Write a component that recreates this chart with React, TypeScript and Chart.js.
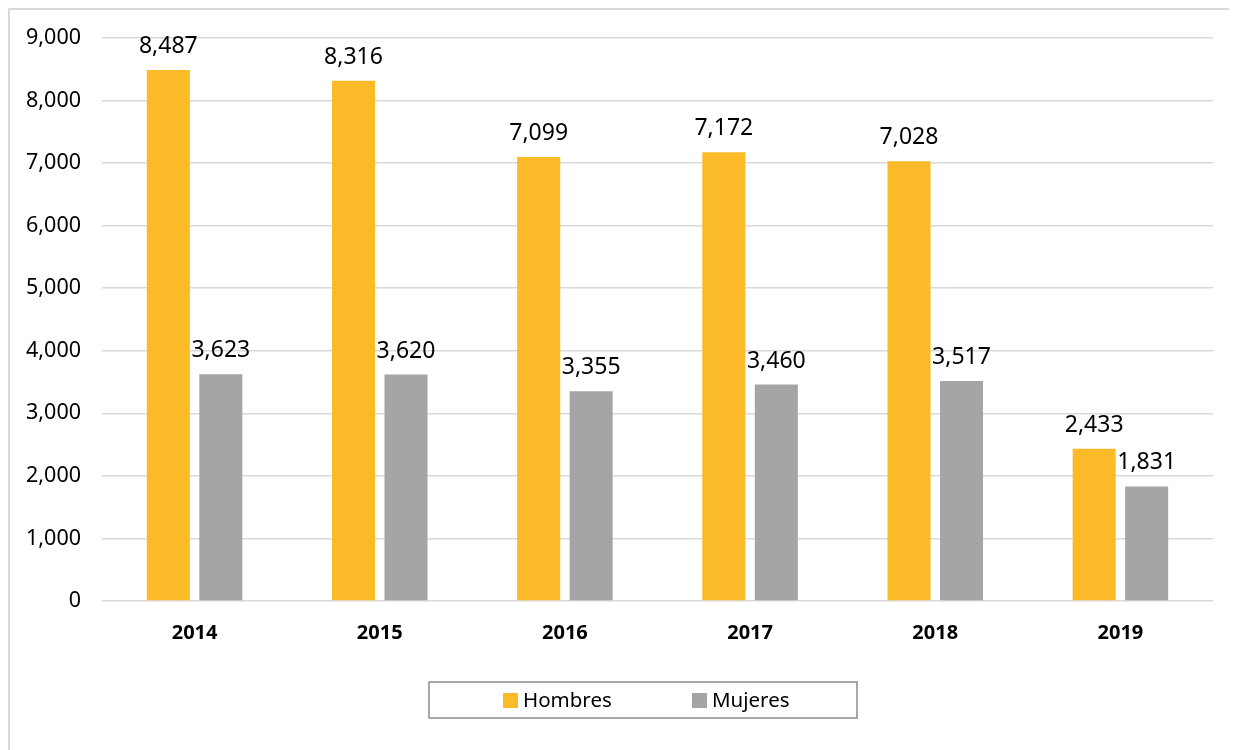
import React, { useEffect, useRef } from "react";
import { Chart, registerables } from "chart.js";

Chart.register(...registerables);

const years = ["2014", "2015", "2016", "2017", "2018", "2019"];
const hombres = [8487, 8316, 7099, 7172, 7028, 2433];
const mujeres = [3623, 3620, 3355, 3460, 3517, 1831];
const seriesNames = ["Hombres", "Mujeres"];
const seriesColors = ["#FBBA27", "#A5A5A5"];

const FONT = "'Noto Sans', 'Open Sans', sans-serif";

const labelsPlugin = {
  id: "valueLabels",
  afterDatasetsDraw(chart: any) {
    const ctx = chart.ctx;
    ctx.save();
    ctx.font = `23px ${FONT}`;
    ctx.fillStyle = "#000";
    ctx.textAlign = "center";
    ctx.textBaseline = "alphabetic";
    chart.data.datasets.forEach((ds: any, i: number) => {
      const meta = chart.getDatasetMeta(i);
      meta.data.forEach((bar: any, j: number) => {
        const v = ds.data[j] as number;
        ctx.fillText(v.toLocaleString("en-US"), bar.x, bar.y - 17);
      });
    });
    ctx.restore();
  },
};

const legendPlugin = {
  id: "boxedLegend",
  afterDraw(chart: any) {
    const ctx = chart.ctx;
    const cx = (chart.chartArea.left + chart.chartArea.right) / 2 - 14.5;
    const boxW = 428;
    const boxH = 36;
    const top = 672;
    const left = cx - boxW / 2;
    ctx.save();
    ctx.strokeStyle = "#8c8c8c";
    ctx.lineWidth = 1.5;
    ctx.strokeRect(left, top, boxW, boxH);
    ctx.font = `20.5px ${FONT}`;
    ctx.textBaseline = "middle";
    ctx.textAlign = "left";
    const offsets = [74, 263];
    chart.data.datasets.forEach((ds: any, i: number) => {
      const x = left + offsets[i];
      ctx.fillStyle = ds.backgroundColor;
      ctx.fillRect(x, top + 11, 15, 15);
      ctx.fillStyle = "#000";
      ctx.fillText(ds.label, x + 20, top + boxH / 2 + 1);
    });
    ctx.restore();
  },
};

export default function App() {
  const ref = useRef<HTMLCanvasElement | null>(null);
  useEffect(() => {
    if (!ref.current) return;
    const chart = new Chart(ref.current, {
      type: "bar",
      data: {
        labels: years,
        datasets: [
          { label: seriesNames[0], data: hombres, backgroundColor: seriesColors[0] },
          { label: seriesNames[1], data: mujeres, backgroundColor: seriesColors[1] },
        ],
      },
      options: {
        animation: false,
        responsive: false,
        maintainAspectRatio: false,
        layout: { padding: { top: 28, right: 24, left: 0, bottom: 0 } },
        datasets: { bar: { categoryPercentage: 0.567, barPercentage: 0.82 } },
        plugins: { legend: { display: false }, tooltip: { enabled: false } },
        scales: {
          x: {
            grid: { display: false },
            border: { display: false },
            ticks: { color: "#000", font: { family: FONT, size: 20, weight: "bold" }, padding: 12 },
            afterFit: (s: any) => {
              s.height = 149;
              s.paddingLeft = 0;
              s.paddingRight = 0;
            },
          },
          y: {
            min: 0,
            max: 9000,
            grid: { color: "#d9d9d9", lineWidth: 1.5, drawTicks: false },
            border: { display: false },
            ticks: {
              stepSize: 1000,
              color: "#000",
              padding: 21,
              font: { family: FONT, size: 21.5 },
              callback: (v: any) => Number(v).toLocaleString("en-US"),
            },
            afterFit: (s: any) => {
              s.width = 92;
              s.paddingTop = 0;
              s.paddingBottom = 0;
            },
          },
        },
      },
      plugins: [labelsPlugin, legendPlugin],
    } as any);
    return () => chart.destroy();
  }, []);
  return (
    <div
      style={{
        position: "relative",
        width: 1229,
        height: 742,
        boxSizing: "border-box",
        borderTop: "2px solid #d9d9d9",
        borderLeft: "2px solid #d9d9d9",
        overflow: "hidden",
        background: "#fff",
      }}
    >
      <canvas ref={ref} width={1227} height={740} style={{ display: "block" }} />
    </div>
  );
}
